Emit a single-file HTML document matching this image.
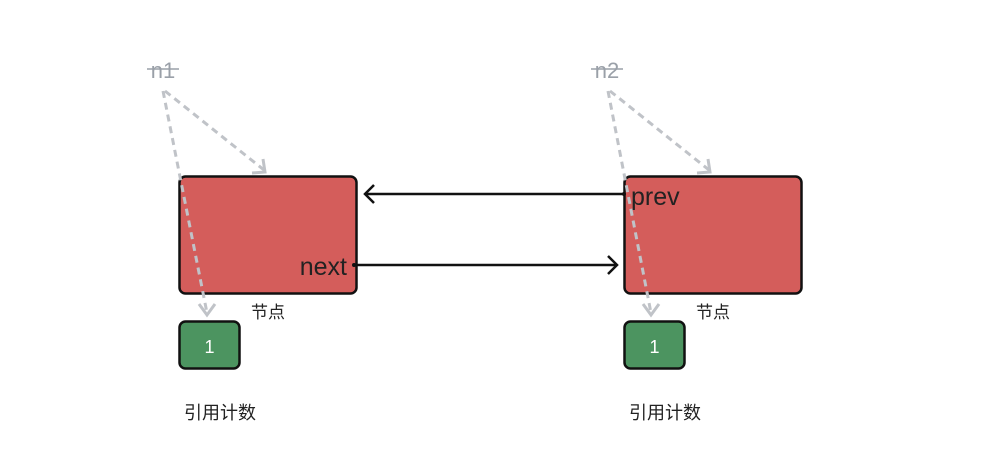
<!DOCTYPE html>
<html><head><meta charset="utf-8"><style>
html,body{margin:0;padding:0;background:#fff;width:1002px;height:456px;overflow:hidden}
text{font-family:"Liberation Sans","Noto Sans CJK SC",sans-serif}
</style></head><body>
<svg width="1002" height="456" viewBox="0 0 1002 456" xmlns="http://www.w3.org/2000/svg">
<defs>
<g id="node">
  <rect x="179.5" y="176.5" width="177" height="117" rx="6" fill="#d45d5b" stroke="#111" stroke-width="2.5"/>
  <rect x="179.5" y="321.5" width="60" height="47" rx="6" fill="#4c9460" stroke="#111" stroke-width="2.5"/>
  <text x="209.5" y="353" font-size="18" fill="#fff" text-anchor="middle">1</text>
  <text x="268" y="318" font-size="17" fill="#222" text-anchor="middle">节点</text>
  <text x="220" y="419" font-size="18" fill="#222" text-anchor="middle">引用计数</text>
</g>
<g id="refs">
  <text x="163" y="78" font-size="22" fill="#9aa0a8" text-anchor="middle" text-decoration="line-through">n1</text>
  <line x1="147" y1="70" x2="179" y2="70" stroke="#9aa0a8" stroke-width="1.5"/>
</g>
</defs>
<use href="#node"/>
<use href="#node" x="445"/>
<!-- arrows -->
<line x1="624" y1="194" x2="366" y2="194" stroke="#111" stroke-width="2.5"/>
<polyline points="374,185 365,194 374,203" fill="none" stroke="#111" stroke-width="2.5"/>
<line x1="353" y1="265" x2="616" y2="265" stroke="#111" stroke-width="2.5"/>
<polyline points="608,256 617,265 608,274" fill="none" stroke="#111" stroke-width="2.5"/>
<circle cx="354" cy="265" r="2" fill="#111"/>
<circle cx="624" cy="194" r="2" fill="#111"/>
<text x="347" y="275" font-size="25" fill="#222" text-anchor="end">next</text>
<text x="631" y="205" font-size="25" fill="#222">prev</text>
<!-- labels -->
<text x="163" y="78" font-size="22" fill="#9aa0a8" text-anchor="middle">n1</text>
<line x1="147" y1="69" x2="179" y2="69" stroke="#9aa0a8" stroke-width="1.5"/>
<text x="607" y="78" font-size="22" fill="#9aa0a8" text-anchor="middle">n2</text>
<line x1="591" y1="69" x2="623" y2="69" stroke="#9aa0a8" stroke-width="1.5"/>
<!-- dashed refs -->
<g stroke="#c0c3c8" stroke-width="3" fill="none" stroke-dasharray="7,5">
  <line x1="165" y1="91" x2="264" y2="170"/>
  <line x1="163" y1="91" x2="207" y2="313"/>
  <line x1="610" y1="91" x2="709" y2="170"/>
  <line x1="608" y1="91" x2="651" y2="313"/>
</g>
<g stroke="#c0c3c8" stroke-width="3" fill="none">
  <polyline points="263,159 265,172 252,173"/>
  <polyline points="199,304 207,315 215,304"/>
  <polyline points="708,159 710,172 697,173"/>
  <polyline points="643,304 651,315 659,304"/>
</g>
</svg>
</body></html>
